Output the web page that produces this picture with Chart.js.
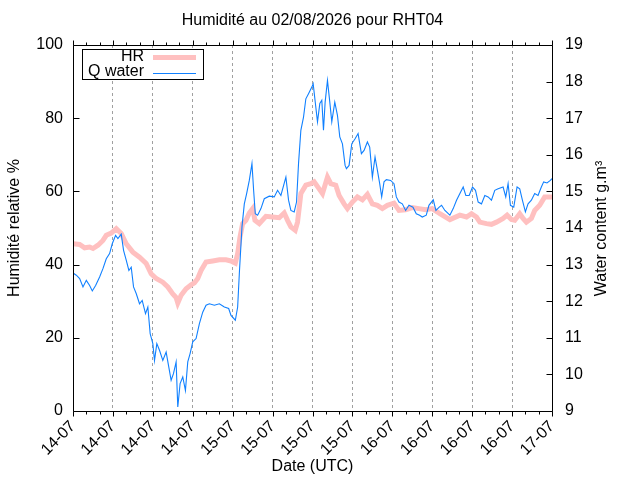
<!DOCTYPE html>
<html>
<head>
<meta charset="utf-8">
<title>Humidité RHT04</title>
<script src="https://cdn.jsdelivr.net/npm/chart.js@4.4.1/dist/chart.umd.min.js"></script>
<style>
    html, body { margin: 0; padding: 0; background: #fff; }
</style>
</head>
<body>
<canvas id="chart" width="640" height="480"></canvas>
<script>
// DATA (hours since 14-07 00:00 UTC)
const xTickLabels = ['14-07', '14-07', '14-07', '14-07', '15-07', '15-07', '15-07', '15-07',
    '16-07', '16-07', '16-07', '16-07', '17-07'];

const hrHours = [0, 1, 1.75, 2.5, 3, 3.75, 4.5, 5, 5.75, 6.5, 7.25, 8, 9, 10, 11, 11.75, 12.5, 13.5,
    14.25, 15, 15.5, 15.75, 16.25, 17, 17.75, 18.25, 18.75, 19.25, 20, 21, 22, 23, 23.75, 24.4,
    24.75, 25.1, 25.5, 26, 26.5, 27, 27.35, 28, 29, 30, 31, 31.75, 32.25, 32.75, 33.4, 33.75,
    34.25, 35, 35.75, 36.25, 37, 37.5, 38.25, 38.75, 39.5, 40, 40.75, 41.25, 42, 42.75, 43.5,
    44.25, 45, 45.75, 46.5, 47.25, 48.25, 49, 50, 51, 52, 53, 54, 55.15, 56.65, 58.15, 59.15,
    59.9, 60.65, 61.15, 62.15, 62.9, 63.65, 64.65, 65.25, 65.9, 66.4, 67.15, 67.65, 68.15, 68.9,
    69.4, 70.15, 70.9, 72];
const hrValues = [45.7, 45.5, 44.6, 44.8, 44.4, 45.3, 46.6, 48, 48.6, 49.8, 48.5, 45.7, 43.4, 42,
    40.3, 37.5, 36.2, 35.2, 33.9, 32, 31, 29.5, 31.6, 33.4, 34.5, 35, 36.2, 38.4, 40.7, 41, 41.3,
    41.3, 41, 40.4, 43, 47.5, 51.2, 52.1, 54.1, 55.3, 52.1, 51.2, 53.2, 53, 52.8, 54.1, 52.1, 50.3,
    49.4, 51.6, 59.4, 61.7, 62.1, 62.6, 60.7, 59.4, 63.9, 62.1, 61.7, 58.9, 56.6, 55.3, 57.1, 58.5,
    57.7, 59.2, 56.6, 56.2, 55.3, 56.2, 56.8, 54.8, 55, 55.6, 55.3, 55, 55.3, 53.9, 52.3, 53.5, 53,
    53.9, 53, 51.6, 51.2, 51, 51.6, 52.6, 53.5, 52.3, 52.1, 53.9, 52.6, 51.6, 52.6, 54.8, 56.2,
    58.5, 58.5];

const qHours = [0, 0.5, 1, 1.5, 2, 2.5, 2.9, 3.4, 4, 4.5, 5, 5.5, 5.9, 6.4, 6.75, 7.25, 7.6, 8, 8.4,
    8.75, 9.1, 9.5, 10, 10.4, 10.9, 11.25, 11.6, 12, 12.25, 12.6, 13, 13.5, 14, 14.4, 14.75, 15.1,
    15.5, 15.75, 16.1, 16.5, 16.9, 17.25, 17.6, 18, 18.5, 19, 19.5, 20, 20.5, 21.25, 22, 22.75,
    23.4, 23.75, 24.4, 24.75, 25, 25.4, 25.75, 26.1, 26.5, 26.9, 27.15, 27.4, 27.75, 28.25, 28.75,
    29.5, 30.25, 30.75, 31.25, 32, 32.4, 32.75, 33.25, 33.6, 33.9, 34.25, 34.65, 35, 35.4, 35.9,
    36.1, 36.5, 36.75, 37.1, 37.4, 37.65, 37.9, 38.25, 38.6, 38.9, 39.35, 39.75, 40.1, 40.5, 40.9,
    41.1, 41.5, 41.9, 42.4, 42.85, 43.35, 43.75, 44.25, 44.6, 45, 45.4, 45.75, 46.1, 46.4, 46.75,
    47.1, 47.75, 48.25, 48.6, 49, 49.5, 50, 50.5, 51.1, 51.6, 52.1, 52.5, 53.1, 53.5, 54.15, 54.55,
    55.05, 55.4, 55.9, 56.65, 57.15, 57.65, 58.25, 58.65, 59.05, 59.55, 60.05, 60.5, 60.9, 61.4,
    61.9, 62.4, 62.9, 63.4, 63.9, 64.65, 65.05, 65.4, 65.75, 66.25, 66.75, 67.15, 67.55, 68, 68.4,
    68.9, 69.4, 69.9, 70.4, 70.75, 71.25, 71.75, 72];
const qValues = [12.77, 12.71, 12.62, 12.39, 12.57, 12.43, 12.28, 12.43, 12.66, 12.89, 13.16, 13.3,
    13.57, 13.8, 13.71, 13.83, 13.39, 13.12, 12.84, 12.93, 12.39, 12.21, 11.93, 12.02, 11.66, 11.84,
    11.11, 10.84, 10.38, 10.84, 10.66, 10.38, 10.61, 10.2, 9.84, 10.02, 10.34, 9.11, 9.75, 9.93,
    9.56, 10.34, 10.57, 10.89, 10.98, 11.39, 11.7, 11.89, 11.93, 11.89, 11.93, 11.84, 11.8, 11.61,
    11.48, 11.84, 12.75, 14.03, 14.66, 14.94, 15.3, 15.76, 15.03, 14.39, 14.35, 14.53, 14.8, 14.87,
    14.85, 15.03, 14.89, 15.39, 14.76, 14.48, 14.44, 14.71, 15.76, 16.67, 17.03, 17.53, 17.67,
    17.85, 17.94, 17.3, 16.9, 17.4, 17.49, 16.67, 17.44, 18.03, 17.44, 16.9, 17.44, 17.08, 16.49,
    16.3, 15.71, 15.62, 15.71, 16.3, 16.44, 16.58, 16.03, 16.12, 16.35, 16.21, 15.39, 15.94, 15.58,
    15.21, 14.85, 15.26, 15.32, 15.3, 15.21, 14.85, 14.71, 14.66, 14.48, 14.62, 14.57, 14.39, 14.35,
    14.3, 14.35, 14.62, 14.77, 14.48, 14.57, 14.62, 14.48, 14.35, 14.53, 14.76, 14.98, 15.12, 14.89,
    14.89, 15.12, 15.03, 14.71, 14.66, 14.89, 14.85, 14.76, 15.03, 15.07, 15.12, 14.85, 15.21,
    14.62, 14.57, 15.12, 15.07, 14.76, 14.44, 14.66, 14.76, 14.94, 14.89, 15.12, 15.26, 15.23,
    15.3, 15.35];

const FONT = "'Liberation Sans', Arial, sans-serif";
const FS = 16;

Chart.defaults.font.family = FONT;
Chart.defaults.font.size = FS;
Chart.defaults.color = '#000';

// FRAME, TICKS, RIGHT TITLE, LEGEND (gnuplot look)
const gnuFrame = {
    id: 'gnuFrame',
    afterDraw: function (chart) {
        const ctx = chart.ctx;
        const a = chart.chartArea;
        const L = Math.round(a.left) + 0.5;
        const R = Math.round(a.right) + 0.5;
        const T = Math.round(a.top) + 0.5;
        const B = Math.round(a.bottom) + 0.5;
        const xs = chart.scales.x;
        const y1 = chart.scales.y;
        const y2 = chart.scales.y2;

        ctx.save();
        ctx.strokeStyle = '#000';
        ctx.lineWidth = 1;
        ctx.beginPath();
        ctx.rect(L, T, R - L, B - T);
        // x ticks out, major every 6h, minor every 2h, mirrored on top
        for (let h = xs.min; h <= xs.max; h += 2) {
            const px = Math.round(xs.getPixelForValue(h)) + 0.5;
            const len = h % 6 === 0 ? 5 : 3;
            ctx.moveTo(px, B); ctx.lineTo(px, B + len);
            ctx.moveTo(px, T); ctx.lineTo(px, T - len);
        }
        // y ticks in
        y1.ticks.forEach(function (t) {
            const py = Math.round(y1.getPixelForValue(t.value)) + 0.5;
            ctx.moveTo(L, py); ctx.lineTo(L + 6, py);
        });
        y2.ticks.forEach(function (t) {
            const py = Math.round(y2.getPixelForValue(t.value)) + 0.5;
            ctx.moveTo(R, py); ctx.lineTo(R - 6, py);
        });
        ctx.stroke();

        // right axis title, reading upwards
        ctx.fillStyle = '#000';
        ctx.font = FS + 'px ' + FONT;
        ctx.save();
        ctx.translate(602, (T + B) / 2);
        ctx.rotate(-Math.PI / 2);
        ctx.textAlign = 'center';
        ctx.textBaseline = 'middle';
        ctx.fillText('Water content g.m³', 0, 0);
        ctx.restore();

        // legend box
        ctx.fillStyle = '#fff';
        ctx.fillRect(82.5, 49.5, 121, 30);
        ctx.strokeRect(82.5, 49.5, 121, 30);
        ctx.fillStyle = '#000';
        ctx.textAlign = 'right';
        ctx.textBaseline = 'alphabetic';
        const rows = [61, 76];
        const lines = [57, 73];
        chart.data.datasets.forEach(function (ds, i) {
            ctx.fillText(ds.label, 144, rows[i]);
            ctx.strokeStyle = ds.borderColor;
            ctx.lineWidth = ds.borderWidth;
            ctx.beginPath();
            ctx.moveTo(153, lines[i] + 0.5);
            ctx.lineTo(196, lines[i] + 0.5);
            ctx.stroke();
        });
        ctx.restore();
    }
};

new Chart(document.getElementById('chart'), {
    type: 'line',
    data: {
        datasets: [{
            label: 'HR',
            data: hrHours.map(function (h, i) { return { x: h, y: hrValues[i] }; }),
            yAxisID: 'y',
            borderColor: '#ffc0c0',
            borderWidth: 5,
            pointRadius: 0,
            tension: 0,
            order: 1
        }, {
            label: 'Q water',
            data: qHours.map(function (h, i) { return { x: h, y: qValues[i] }; }),
            yAxisID: 'y2',
            borderColor: '#1080ff',
            borderWidth: 1.1,
            pointRadius: 0,
            tension: 0,
            order: 0
        }]
    },
    options: {
        responsive: false,
        animation: false,
        devicePixelRatio: 1,
        layout: { padding: 0 },
        plugins: {
            legend: { display: false },
            tooltip: { enabled: false },
            title: {
                display: true,
                fullSize: false,
                text: 'Humidité au 02/08/2026 pour RHT04',
                color: '#000',
                font: { size: FS, weight: 'normal' },
                padding: { top: 10.5, bottom: 15.3 }
            }
        },
        scales: {
            x: {
                type: 'linear',
                min: 0,
                max: 72,
                afterFit: function (s) { s.height = 69; },
                ticks: {
                    stepSize: 6,
                    autoSkip: false,
                    minRotation: 45,
                    maxRotation: 45,
                    padding: 6,
                    callback: function (v, i) { return xTickLabels[i]; }
                },
                grid: {
                    drawTicks: false,
                    color: function (c) {
                        return (c.tick && (c.tick.value === 0 || c.tick.value === 72)) ? 'rgba(0,0,0,0)' : '#a0a0a0';
                    }
                },
                border: { display: false, dash: [3, 3] },
                title: { display: true, text: 'Date (UTC)', padding: { bottom: 4 } }
            },
            y: {
                position: 'left',
                min: 0,
                max: 100,
                afterFit: function (s) { s.width = 73; },
                ticks: { stepSize: 20, padding: 10 },
                grid: { drawOnChartArea: false, drawTicks: false },
                border: { display: false },
                title: { display: true, text: 'Humidité relative %', padding: { top: 5 } }
            },
            y2: {
                position: 'right',
                min: 9,
                max: 19,
                afterFit: function (s) { s.width = 88; },
                ticks: { stepSize: 1, padding: 13 },
                grid: { drawOnChartArea: false, drawTicks: false },
                border: { display: false }
            }
        }
    },
    plugins: [gnuFrame]
});
</script>
</body>
</html>
